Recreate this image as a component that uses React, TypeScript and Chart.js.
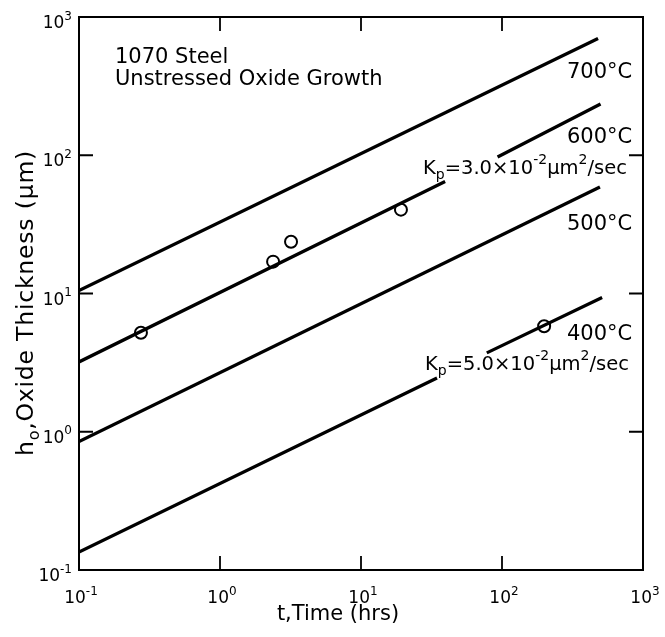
import React, { useEffect, useRef } from "react";
import { Chart, registerables } from "chart.js";

Chart.register(...registerables);

// ---- data ----
const t700 = [0.1, 480];
const h700 = [10.5, 700];
const t600 = [0.1, 39.5, null, 93, 500];
const h600 = [3.2, 64.6, null, 97, 235];
const t500 = [0.1, 495];
const h500 = [0.85, 59];
const t400 = [0.1, 34.6, null, 78, 513];
const h400 = [0.135, 2.45, null, 3.72, 9.35];
const tObs = [0.275, 2.38, 3.19, 19.2, 199];
const hObs = [5.2, 17.0, 23.7, 40.4, 5.8];
const decadeTicks = [0.1, 1, 10, 100, 1000];
const tickExponents = ["-1", "0", "1", "2", "3"];

const FONT = '"DejaVu Sans"';

type Part = [string, "n" | "sup" | "sub"];

function partFont(m: string, size: number) {
  return `${m === "n" ? size : Math.round(size * 0.7)}px ${FONT}`;
}

function richWidth(ctx: CanvasRenderingContext2D, parts: Part[], size: number) {
  let w = 0;
  for (const [s, m] of parts) {
    ctx.font = partFont(m, size);
    w += ctx.measureText(s).width;
  }
  return w;
}

function drawRich(
  ctx: CanvasRenderingContext2D,
  x: number,
  y: number,
  parts: Part[],
  size: number,
  align: "left" | "center" | "right" = "left"
) {
  ctx.textAlign = "left";
  const w = richWidth(ctx, parts, size);
  let cx = align === "left" ? x : align === "center" ? x - w / 2 : x - w;
  for (const [s, m] of parts) {
    ctx.font = partFont(m, size);
    const dy = m === "sup" ? -size * 0.5 : m === "sub" ? size * 0.25 : 0;
    ctx.fillText(s, cx, y + dy);
    cx += ctx.measureText(s).width;
  }
}

const pairs = (xs: (number | null)[], ys: (number | null)[]) => xs.map((x, i) => ({ x, y: ys[i] }));

const framePlugin = {
  id: "frame",
  afterDraw(chart: any) {
    const { ctx, chartArea: a, scales } = chart;
    const xs = scales.x;
    const ys = scales.y;
    ctx.save();
    ctx.strokeStyle = "#000";
    ctx.lineWidth = 2;
    ctx.strokeRect(a.left, a.top, a.right - a.left, a.bottom - a.top);
    const L = 14;
    ctx.lineWidth = 1.8;
    ctx.beginPath();
    for (const v of decadeTicks.slice(1, -1)) {
      const px = xs.getPixelForValue(v);
      ctx.moveTo(px, a.bottom);
      ctx.lineTo(px, a.bottom - L);
      ctx.moveTo(px, a.top);
      ctx.lineTo(px, a.top + L);
      const py = ys.getPixelForValue(v);
      ctx.moveTo(a.left, py);
      ctx.lineTo(a.left + L, py);
      ctx.moveTo(a.right, py);
      ctx.lineTo(a.right - L, py);
    }
    ctx.stroke();

    ctx.fillStyle = "#000";
    ctx.textBaseline = "alphabetic";

    // tick labels
    decadeTicks.forEach((v, i) => {
      const parts: Part[] = [["10", "n"], [tickExponents[i], "sup"]];
      const px = xs.getPixelForValue(v);
      drawRich(ctx, px + 2, a.bottom + 33, parts, 17, "center");
      const py = ys.getPixelForValue(v);
      drawRich(ctx, a.left - 7, py + 11, parts, 17, "right");
    });

    // axis titles
    drawRich(ctx, 338, 620, [["t,Time (hrs)", "n"]], 21, "center");
    ctx.save();
    ctx.translate(33, 303);
    ctx.rotate(-Math.PI / 2);
    (ctx as any).letterSpacing = "0.8px";
    drawRich(ctx, 0, 0, [["h", "n"], ["o", "sub"], [",Oxide Thickness (μm)", "n"]], 23.5, "center");
    ctx.restore();

    // annotations
    drawRich(ctx, 115, 63, [["1070 Steel", "n"]], 21);
    drawRich(ctx, 115, 85, [["Unstressed Oxide Growth", "n"]], 21);

    const lx = a.right - 76;
    drawRich(ctx, lx, 78, [["700°C", "n"]], 21);
    drawRich(ctx, lx, 143, [["600°C", "n"]], 21);
    drawRich(ctx, lx, 230, [["500°C", "n"]], 21);
    drawRich(ctx, lx, 340, [["400°C", "n"]], 21);
    const kp = (val: string): Part[] => [
      ["K", "n"],
      ["p", "sub"],
      ["=" + val + "×10", "n"],
      ["-2", "sup"],
      ["μm", "n"],
      ["2", "sup"],
      ["/sec", "n"],
    ];
    drawRich(ctx, a.right - 220, 174, kp("3.0"), 19.5);
    drawRich(ctx, a.right - 218, 370, kp("5.0"), 19.5);
    ctx.restore();
  },
};

export default function App() {
  const ref = useRef<HTMLCanvasElement | null>(null);
  useEffect(() => {
    if (!ref.current) return;
    const lineStyle = {
      type: "line" as const,
      borderColor: "#000",
      borderWidth: 3.3,
      pointRadius: 0,
      fill: false,
      spanGaps: false,
      tension: 0,
    };
    const axisBase = (fit: (s: any) => void) => ({
      type: "logarithmic",
      min: 0.1,
      max: 1000,
      afterBuildTicks: (s: any) => {
        s.ticks = decadeTicks.map((v) => ({ value: v }));
      },
      afterFit: fit,
      ticks: { display: false },
      grid: { drawOnChartArea: false, drawTicks: false },
      border: { display: true, color: "#000", width: 2 },
      title: { display: false },
    });
    const chart = new Chart(ref.current, {
      type: "line",
      data: {
        datasets: [
          { ...lineStyle, label: "700°C", data: pairs(t700, h700) },
          { ...lineStyle, label: "600°C", data: pairs(t600, h600) },
          { ...lineStyle, label: "500°C", data: pairs(t500, h500) },
          { ...lineStyle, label: "400°C", data: pairs(t400, h400) },
          {
            type: "line",
            label: "Observed",
            data: pairs(tObs, hObs),
            showLine: false,
            pointStyle: "circle",
            pointRadius: 6,
            pointBorderWidth: 2,
            pointBorderColor: "#000",
            pointBackgroundColor: "#fff",
          },
        ] as any,
      },
      options: {
        responsive: false,
        animation: false,
        events: [],
        layout: { padding: { top: 17, right: 22, left: 0, bottom: 0 } },
        plugins: { legend: { display: false }, tooltip: { enabled: false } },
        scales: {
          x: axisBase((s: any) => {
            s.height = 67;
          }),
          y: axisBase((s: any) => {
            s.width = 79;
          }),
        },
      },
      plugins: [framePlugin],
    } as any);
    return () => chart.destroy();
  }, []);
  return (
    <div style={{ position: "absolute", left: 0, top: 0, width: 665, height: 637, background: "#fff" }}>
      <canvas ref={ref} width={665} height={637} />
    </div>
  );
}
